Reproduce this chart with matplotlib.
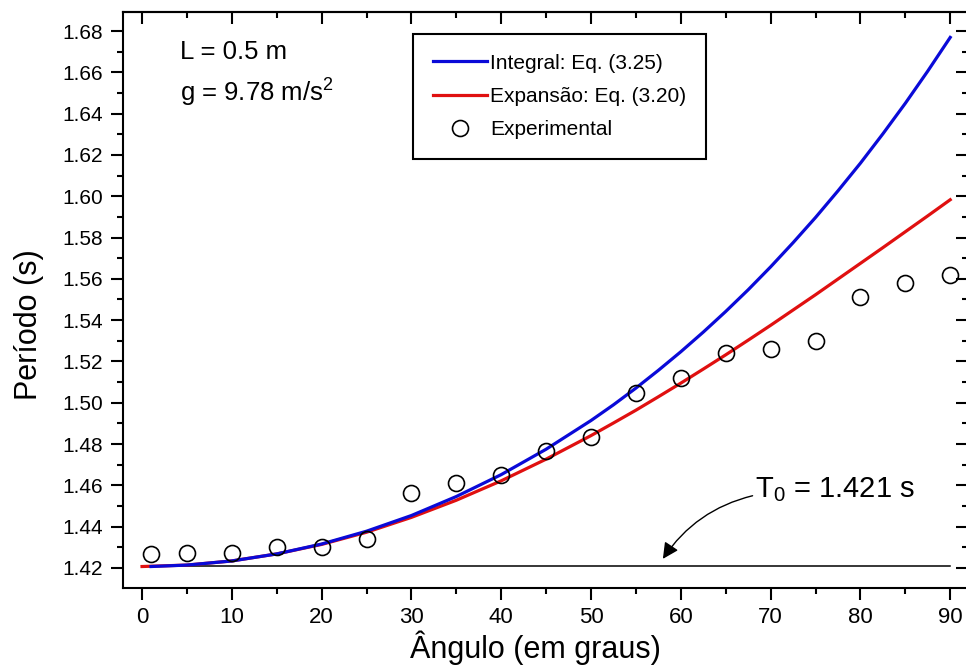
import matplotlib
matplotlib.use("Agg")
import matplotlib.pyplot as plt
from matplotlib.ticker import MultipleLocator

plt.rcParams["font.family"] = ["Liberation Sans", "DejaVu Sans"]
plt.rcParams["mathtext.fontset"] = "custom"
plt.rcParams["mathtext.rm"] = "Liberation Sans"
plt.rcParams["mathtext.it"] = "Liberation Sans"

# experimental points
angles_exp = [1, 5, 10, 15, 20, 25, 30, 35, 40, 45, 50, 55, 60, 65, 70, 75, 80, 85, 90]
period_exp = [1.4266, 1.4271, 1.4274, 1.4303, 1.4302, 1.4340, 1.4563, 1.4612, 1.4650,
              1.4767, 1.4834, 1.5047, 1.5120, 1.5240, 1.5260, 1.5300, 1.5512, 1.5580, 1.5619]

# Integral: Eq. (3.25)
angles_int = [1, 5, 10, 15, 20, 25, 30, 35, 40, 45, 50, 52.5, 55, 57.5, 60, 62.5, 65, 67.5,
              70, 72.5, 75, 77.5, 80, 82.5, 85, 87.5, 90]
period_int = [1.4207, 1.4214, 1.4234, 1.4268, 1.4316, 1.4378, 1.4454, 1.4546, 1.4652,
              1.4775, 1.4914, 1.4990, 1.5071, 1.5157, 1.5247, 1.5342, 1.5442, 1.5547,
              1.5658, 1.5775, 1.5897, 1.6026, 1.6160, 1.6302, 1.6450, 1.6606, 1.6769]

# Expansao: Eq. (3.20)
angles_ser = [0, 5, 10, 15, 20, 25, 30, 35, 40, 45, 50, 52.5, 55, 57.5, 60, 62.5, 65, 67.5,
              70, 72.5, 75, 77.5, 80, 82.5, 85, 87.5, 90]
period_ser = [1.4207, 1.4214, 1.4234, 1.4268, 1.4314, 1.4373, 1.4445, 1.4528, 1.4622,
              1.4727, 1.4841, 1.4902, 1.4964, 1.5029, 1.5095, 1.5163, 1.5232, 1.5303,
              1.5375, 1.5449, 1.5523, 1.5599, 1.5675, 1.5751, 1.5828, 1.5905, 1.5983]

T0 = 1.421
t0_range = [0, 90]

fig = plt.figure(figsize=(9.66, 6.71), dpi=100)
ax = fig.add_axes([123 / 966, 1 - 588 / 671, (968 - 123) / 966, (588 - 12) / 671])

ax.plot(t0_range, [T0, T0], color="black", lw=1.1, zorder=1)
ax.plot(angles_ser, period_ser, color="#e01010", lw=2.3, label="Expansão: Eq. (3.20)", zorder=2)
ax.plot(angles_int, period_int, color="#0a0ad8", lw=2.3, label="Integral: Eq. (3.25)", zorder=3)
ax.plot(angles_exp, period_exp, ls="none", marker="o", ms=11.5, mfc="none", mec="black",
        mew=1.2, label="Experimental", zorder=4)

ax.set_xlim(-2.12, 91.98)
ax.set_ylim(1.4103, 1.6892)
ax.xaxis.set_major_locator(MultipleLocator(10))
ax.xaxis.set_minor_locator(MultipleLocator(5))
ax.yaxis.set_major_locator(MultipleLocator(0.02))
ax.yaxis.set_minor_locator(MultipleLocator(0.01))
ax.yaxis.set_major_formatter(plt.FormatStrFormatter("%.2f"))

for s in ax.spines.values():
    s.set_linewidth(1.5)
ax.tick_params(axis="both", which="both", width=1.5)
ax.tick_params(axis="both", which="major", length=8.5)
ax.tick_params(axis="both", which="minor", length=4.5)
ax.tick_params(axis="x", which="both", direction="out", top=False, bottom=True)
ax.tick_params(axis="y", which="both", direction="out", right=False, left=True)
ax.tick_params(axis="x", which="major", labelsize=16, pad=5)
ax.tick_params(axis="y", which="major", labelsize=15, pad=6)

# mirror ticks on top and right point inward
sec_x = ax.secondary_xaxis("top")
sec_x.xaxis.set_major_locator(MultipleLocator(10))
sec_x.xaxis.set_minor_locator(MultipleLocator(5))
sec_x.tick_params(which="both", direction="in", width=1.5, labeltop=False)
sec_x.tick_params(which="major", length=8.5)
sec_x.tick_params(which="minor", length=4.5)
sec_x.spines["top"].set_linewidth(1.5)
sec_y = ax.secondary_yaxis("right")
sec_y.yaxis.set_major_locator(MultipleLocator(0.02))
sec_y.yaxis.set_minor_locator(MultipleLocator(0.01))
sec_y.tick_params(which="both", direction="in", width=1.5, labelright=False)
sec_y.tick_params(which="major", length=8.5)
sec_y.tick_params(which="minor", length=4.5)

ax.set_xlabel("Ângulo (em graus)", fontsize=22)
ax.xaxis.set_label_coords(0.4876, -0.121)
ax.xaxis.label.set_va("baseline")
ax.set_ylabel("Período (s)", fontsize=22)
ax.yaxis.set_label_coords(-0.1018, 0.4566)
ax.yaxis.label.set_va("baseline")

ax.text(4.2, 1.6665, "L = 0.5 m", fontsize=18.5, va="baseline")
ax.text(4.2, 1.6457, r"g = 9.78 m/s$^\mathrm{2}$", fontsize=18.5, va="baseline")

ax.annotate(r"T$_\mathrm{0}$ = 1.421 s", xy=(58.0, 1.4244), xytext=(68.3, 1.4544),
            fontsize=21, va="baseline",
            arrowprops=dict(arrowstyle="-|>", color="black", lw=1.0, mutation_scale=24,
                            connectionstyle="arc3,rad=0.2", shrinkA=0, shrinkB=0,
                            relpos=(0, 0.3)))

handles, labels = ax.get_legend_handles_labels()
order = [1, 0, 2]
leg = ax.legend([handles[i] for i in order], [labels[i] for i in order],
                loc="upper left", bbox_to_anchor=(0.343, 0.962), fontsize=15,
                handlelength=2.6, handletextpad=0.15, labelspacing=0.69,
                borderpad=0.95, borderaxespad=0, fancybox=False, framealpha=1)
leg.get_frame().set_edgecolor("black")
leg.get_frame().set_linewidth(1.5)

fig.savefig("out.png", dpi=100)
